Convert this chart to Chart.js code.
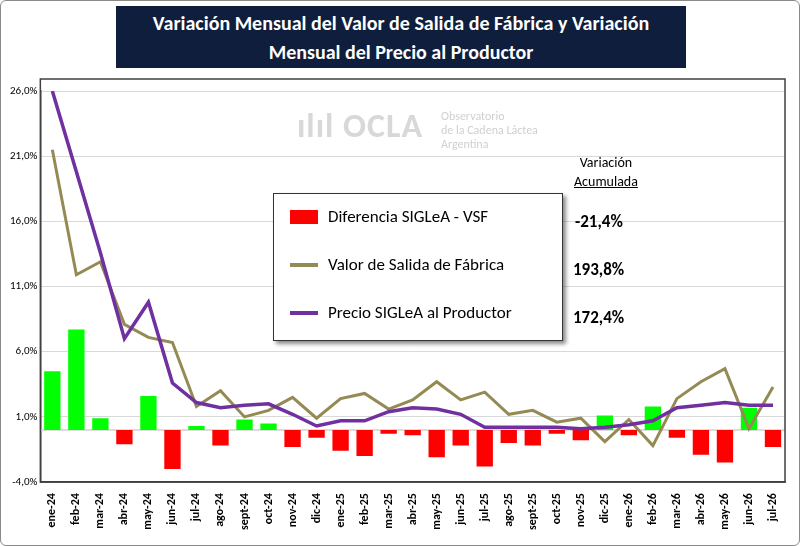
<!DOCTYPE html>
<html><head><meta charset="utf-8">
<script src="https://cdn.jsdelivr.net/npm/chart.js@4"></script>
<style>
body{margin:0;background:#fff;font-family:Calibri,"Liberation Sans",Arial,sans-serif}
#wrap{position:relative;width:798px;height:544px;border:1px solid #8a8a8a;border-radius:6px;background:#fff;overflow:hidden}
#title{position:absolute;left:115px;top:5px;width:570px;height:62px;background:#0e1e3c;color:#fff;font-weight:bold;font-size:20px;text-align:center;line-height:29px;padding-top:3px;box-sizing:border-box}
#leg{position:absolute;left:272px;top:192px;width:288px;height:146px;border:1px solid #333;background:#fff;box-shadow:3px 3px 4px rgba(0,0,0,.45);font-size:17px}
.li{position:absolute;left:16px;display:flex;align-items:center}
.sw{width:28px;margin-right:10px}
.acc{position:absolute;font-weight:bold;font-size:17px;left:574px}
#wm{position:absolute;left:296px;top:104px;color:#d8d8d8;font-size:34px;font-weight:bold;letter-spacing:1px}
#wm2{position:absolute;left:440px;top:108px;color:#d0d0d0;font-size:12px;line-height:14px}
</style></head><body>
<div id="wrap">
<canvas id="c" width="798" height="544"></canvas>
<div id="wm">ılıl OCLA</div>
<div id="wm2">Observatorio<br>de la Cadena Láctea<br>Argentina</div>
<div id="title">Variación Mensual del Valor de Salida de Fábrica y Variación<br>Mensual del Precio al Productor</div>
<div style="position:absolute;left:573px;top:152px;font-size:14px;text-align:center;line-height:19px">Variación<br><u>Acumulada</u></div>
<div id="leg">
<div class="li" style="top:12px"><div class="sw" style="height:14px;background:#ff0000"></div>Diferencia SIGLeA - VSF</div>
<div class="li" style="top:60px"><div class="sw" style="height:4px;background:#948a54"></div>Valor de Salida de Fábrica</div>
<div class="li" style="top:108px"><div class="sw" style="height:4px;background:#7030a0"></div>Precio SIGLeA al Productor</div>
</div>
<div class="acc" style="top:210px">-21,4%</div>
<div class="acc" style="top:258px;left:572px">193,8%</div>
<div class="acc" style="top:306px;left:572px">172,4%</div>
</div>
<script>
const months = ["ene-24","feb-24","mar-24","abr-24","may-24","jun-24","jul-24","ago-24","sept-24","oct-24","nov-24","dic-24",
"ene-25","feb-25","mar-25","abr-25","may-25","jun-25","jul-25","ago-25","sept-25","oct-25","nov-25","dic-25",
"ene-26","feb-26","mar-26","abr-26","may-26","jun-26","jul-26"];
const vsf = [21.5,11.9,12.9,8.1,7.1,6.7,1.8,3.0,1.0,1.5,2.5,0.9,2.4,2.8,1.6,2.3,3.7,2.3,2.9,1.2,1.5,0.6,0.9,-0.9,0.8,-1.2,2.4,3.7,4.7,0.1,3.3];
const precio = [26.0,19.8,13.6,7.0,9.8,3.6,2.1,1.7,1.9,2.0,1.2,0.3,0.7,0.7,1.4,1.7,1.6,1.2,0.2,0.2,0.2,0.2,0.1,0.2,0.4,0.7,1.7,1.9,2.1,1.9,1.9];
const diferencia = [4.5,7.7,0.9,-1.1,2.6,-3.0,0.3,-1.2,0.8,0.5,-1.3,-0.6,-1.6,-2.0,-0.3,-0.4,-2.1,-1.2,-2.8,-1.0,-1.2,-0.3,-0.8,1.1,-0.4,1.8,-0.6,-1.9,-2.5,1.7,-1.3];

const zeroLine = {id:"zero",beforeDatasetsDraw(ch){const y=ch.scales.y.getPixelForValue(0),a=ch.chartArea,g=ch.ctx;
g.save();g.strokeStyle="#d0d0d0";g.lineWidth=1.5;g.beginPath();g.moveTo(a.left,y);g.lineTo(a.right,y);g.stroke();
g.strokeStyle="#404040";g.lineWidth=1.5;g.strokeRect(a.left,a.top-12,a.right-a.left,a.bottom-a.top+12);g.restore();}};

new Chart(document.getElementById("c"),{
data:{labels:months,datasets:[
{type:"line",data:precio,borderColor:"#7030a0",borderWidth:3.5,pointRadius:0,tension:0,order:1},
{type:"line",data:vsf,borderColor:"#948a54",borderWidth:3,pointRadius:0,tension:0,order:2},
{type:"bar",data:diferencia,backgroundColor:diferencia.map(v=>v>=0?"#00ff00":"#ff0000"),categoryPercentage:1,barPercentage:0.68,order:3}
]},
options:{responsive:false,animation:false,
layout:{padding:{top:90,right:14,left:6,bottom:12}},
plugins:{legend:{display:false},tooltip:{enabled:false}},
scales:{
x:{grid:{display:false},border:{color:"#404040",width:1.5},
ticks:{maxRotation:90,minRotation:90,autoSkip:false,color:"#000",font:{size:12,weight:"bold",family:"Calibri, Liberation Sans, Arial"}}},
y:{min:-4,max:26,ticks:{stepSize:5,color:"#000",font:{size:11,family:"Calibri, Liberation Sans, Arial"},
callback:v=>v.toFixed(1).replace(".",",")+"%"},
grid:{color:"#d9d9d9",drawTicks:false},border:{color:"#404040",width:1.5}}
}},
plugins:[zeroLine]
});
</script>
</body></html>
